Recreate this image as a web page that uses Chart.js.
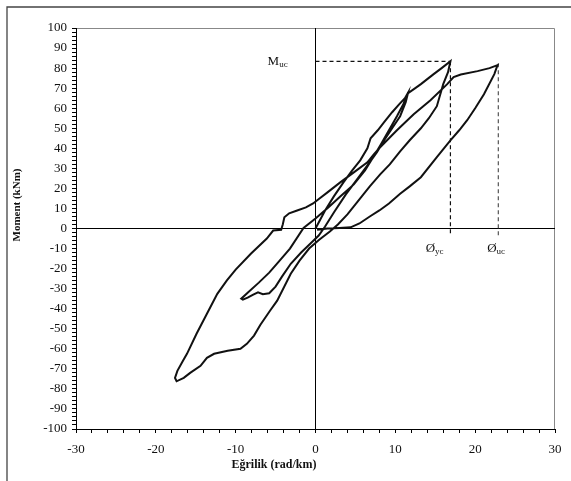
<!DOCTYPE html>
<html>
<head>
<meta charset="utf-8">
<script src="https://cdn.jsdelivr.net/npm/chart.js@4.4.1/dist/chart.umd.min.js"></script>
<style>
    html, body { margin: 0; padding: 0; background: #fff; }
    canvas { display: block; }
</style>
</head>
<body>
<canvas id="momentChart" width="571" height="481"></canvas>
<script>
const curvature = [
    // initial loading
    0, 1.2, 2.3, 3.5, 4.6, 5.6, 6.5, 6.9, 7.8, 8.6, 9.6, 10.5, 11.2, 11.6,
    // unloading from first peak
    11.3, 10.6, 9.6, 8.6, 7.7, 6.6, 5.3, 3.8, 2.3, 1.2, 0.4, -0.5, -1.8, -3.1, -4.2, -5.0, -5.8, -6.6, -7.2, -7.8, -8.5, -9.1,
    // reloading to M_uc
    -9.3, -8.5, -7.1, -5.8, -4.6, -3.2, -1.5, 0, 1.6, 3.1, 4.8, 6.2, 7.3, 8.2, 9.2, 10.2, 11.0, 11.6, 12.5, 13.2, 14.8, 15.8, 16.9,
    // unloading to negative peak
    16.6, 16.0, 15.2, 14.2, 13.2, 11.8, 10.6, 9.3, 8.1, 6.8, 5.4, 4.0, 2.8, 1.8, 0.5, -0.8, -2.0, -3.1, -4.8, -5.7, -6.9, -7.7, -8.6, -9.4, -11.0, -12.7, -13.6, -14.4, -15.7, -16.5, -17.4,
    // reloading to second positive peak
    -17.6, -17.3, -16.6, -16.1, -14.9, -13.6, -12.3, -11.1, -10.0, -8.1, -6.1, -5.3, -4.3, -4.1, -3.9, -3.3, -2.3, -1.2, -0.3, 0.5, 1.5, 3.1, 4.8, 6.5, 7.3, 8.1, 10.2, 12.3, 14.4, 16.5, 17.3, 18.2, 20.3, 21.8, 22.8,
    // final unloading
    22.4, 21.1, 20.0, 19.0, 18.0, 16.9, 15.2, 13.2, 11.8, 10.6, 9.2, 8.0, 6.8, 5.5, 4.4, 3.0, 1.5, 0.2
];

// Moment (kNm) for each curvature value above
const moment = [
    0, 9, 16, 23, 29, 34, 40, 45, 49, 53, 58, 62, 65, 67.8,
    63, 56, 50, 44, 38, 32, 25, 17, 8, 1, -3.5, -7, -12, -17.6, -24, -29, -32.3, -32.8, -31.8, -33, -34.5, -35.5,
    -35, -32, -27, -22, -16.5, -10, 0.3, 5, 10.5, 16, 22, 29, 36, 42, 49, 56, 62, 67.5, 70, 72, 77, 80, 83.4,
    78, 72, 61, 55, 50, 44, 38.5, 32, 27, 21, 14, 7, 2, -1.5, -5.5, -10, -16, -22.6, -36, -41, -48, -53.4, -57.5, -60, -61, -62.5, -64.5, -68.5, -72, -74.5, -76.2,
    -74.5, -71, -66, -62.5, -52.5, -42.5, -32.6, -25.9, -20.5, -12.6, -5, -1, -0.6, 2, 5.6, 7.6, 9, 10.5, 12.5, 15, 18, 23, 28, 33, 37, 40.5, 49, 57, 64, 72, 75.5, 76.8, 78.5, 80, 81.5,
    77, 67, 60, 54, 49, 44, 35.6, 25.6, 21, 17.3, 12.5, 9, 6, 2.5, 0.6, 0.3, 0, -0.6
];

// characteristic points marked with dashed lines
const mUc = 83.4;      // M_uc
const phiYc = 16.9;    // Ø_yc
const phiUc = 22.9;    // Ø_uc
const guideBottom = -3.5;

// axis ranges and tick step (labels every 10, minor ticks every 2)
const xRange = [-30, 30];
const yRange = [-100, 100];
const minorStep = 2;

const serif = "'Liberation Serif', 'DejaVu Serif', serif";

// white background + outer frame + top/right box of the plot
const framePlugin = {
    id: 'frame',
    beforeDraw(chart) {
        const ctx = chart.ctx;
        const a = chart.chartArea;
        ctx.save();
        ctx.fillStyle = '#fff';
        ctx.fillRect(0, 0, chart.width, chart.height);
        ctx.strokeStyle = '#444';
        ctx.lineWidth = 1.3;
        ctx.beginPath();
        ctx.moveTo(7, chart.height);
        ctx.lineTo(7, 7);
        ctx.lineTo(chart.width, 7);
        ctx.stroke();
        ctx.strokeStyle = '#888';
        ctx.lineWidth = 1;
        ctx.beginPath();
        ctx.moveTo(a.left, a.top + 0.5);
        ctx.lineTo(a.right - 0.5, a.top + 0.5);
        ctx.lineTo(a.right - 0.5, a.bottom);
        ctx.stroke();
        ctx.restore();
    }
};

// axis titles and the M_uc / Ø labels
function drawSubLabel(ctx, x, y, main, sub, size) {
    ctx.font = size + 'px ' + serif;
    ctx.fillText(main, x, y);
    const w = ctx.measureText(main).width;
    ctx.font = Math.round(size * 0.7) + 'px ' + serif;
    ctx.fillText(sub, x + w, y + 3);
}

const textPlugin = {
    id: 'texts',
    afterDraw(chart) {
        const ctx = chart.ctx;
        const xs = chart.scales.x;
        const ys = chart.scales.y;
        ctx.save();
        ctx.fillStyle = '#111';
        ctx.textBaseline = 'middle';

        ctx.font = 'bold 12px ' + serif;
        ctx.textAlign = 'center';
        ctx.fillText('Eğrilik (rad/km)', 274, 465);

        ctx.save();
        ctx.translate(17, 205);
        ctx.rotate(-Math.PI / 2);
        ctx.font = 'bold 11px ' + serif;
        ctx.fillText('Moment (kNm)', 0, 0);
        ctx.restore();

        ctx.textAlign = 'left';
        drawSubLabel(ctx, xs.getPixelForValue(-6), ys.getPixelForValue(mUc), 'M', 'uc', 13);
        drawSubLabel(ctx, xs.getPixelForValue(13.8), ys.getPixelForValue(-10), 'Ø', 'yc', 13);
        drawSubLabel(ctx, xs.getPixelForValue(21.5), ys.getPixelForValue(-10), 'Ø', 'uc', 13);
        ctx.restore();
    }
};

function axisOptions(range, fitSide, fitSize, pad) {
    return {
        type: 'linear',
        min: range[0],
        max: range[1],
        afterFit(scale) {
            scale[fitSide] = fitSize;
        },
        border: { display: true, color: '#000', width: 1 },
        grid: {
            drawOnChartArea: true,
            color: ctx => (ctx.tick && ctx.tick.value === 0) ? '#000' : 'rgba(0,0,0,0)',
            lineWidth: 1,
            tickColor: '#000',
            tickLength: 4
        },
        ticks: {
            stepSize: minorStep,
            autoSkip: false,
            maxRotation: 0,
            padding: pad,
            color: '#111',
            font: { family: serif, size: 13 },
            callback: value => (value % 10 === 0 ? String(value) : '')
        }
    };
}

function initMomentChart() {
    const loop = curvature.map((c, i) => ({ x: c, y: moment[i] }));

    const guideStyle = {
        showLine: true,
        pointRadius: 0,
        borderColor: '#111',
        borderWidth: 1.2,
        borderDash: [4, 3]
    };

    new Chart(document.getElementById('momentChart'), {
        type: 'scatter',
        data: {
            datasets: [
                {
                    label: 'Moment',
                    data: loop,
                    showLine: true,
                    pointRadius: 0,
                    borderColor: '#111',
                    borderWidth: 2,
                    tension: 0
                },
                Object.assign({ data: [{ x: 0, y: mUc }, { x: phiYc, y: mUc }] }, guideStyle),
                Object.assign({ data: [{ x: phiYc, y: mUc }, { x: phiYc, y: guideBottom }] }, guideStyle),
                Object.assign({ data: [{ x: phiUc, y: mUc - 1 }, { x: phiUc, y: guideBottom }] }, guideStyle, { borderColor: '#555' })
            ]
        },
        options: {
            responsive: false,
            animation: false,
            layout: { padding: { top: 28, right: 16, left: 0, bottom: 0 } },
            plugins: {
                legend: { display: false },
                tooltip: { enabled: false }
            },
            scales: {
                x: Object.assign(axisOptions(xRange, 'height', 52, 9), { position: 'bottom' }),
                y: Object.assign(axisOptions(yRange, 'width', 76, 5), { position: 'left' })
            }
        },
        plugins: [framePlugin, textPlugin]
    });
}

initMomentChart();
</script>
</body>
</html>
